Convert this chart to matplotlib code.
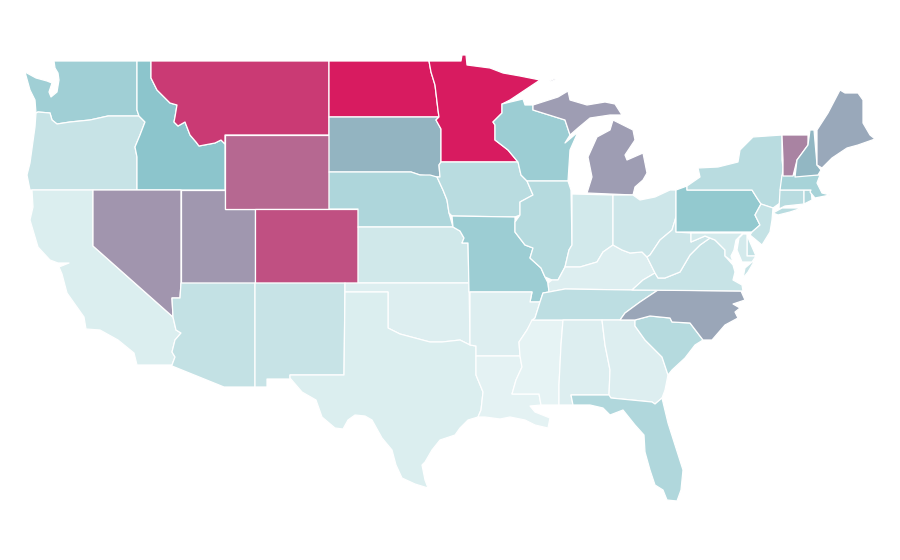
import matplotlib
matplotlib.use("Agg")
from matplotlib import pyplot as plt
from matplotlib.collections import PolyCollection
from matplotlib.colors import LinearSegmentedColormap, Normalize

# state values (0 = palest, 100 = crimson)
STATE_NAMES = ["WA", "OR", "CA", "ID", "NV", "UT", "AZ", "MT", "WY", "CO", "NM",
               "ND", "SD", "NE", "KS", "OK", "TX", "MN", "IA", "MO", "AR", "LA",
               "WI", "IL", "MS", "MI", "IN", "KY", "TN", "AL", "OH", "GA", "FL",
               "SC", "NC", "VA", "WV", "PA", "NY", "NJ", "DE", "MD", "CT", "RI",
               "MA", "VT", "NH", "ME"]
STATE_VALUES = [31, 14, 5, 40, 57, 56, 16, 89, 73, 81, 14,
                100, 46, 25, 10, 4, 5, 100, 20, 33, 4, 1,
                33, 22, 0, 54, 9, 4, 18, 4, 11, 4, 24,
                22, 51, 14, 12, 37, 20, 15, 15, 8, 20, 24,
                28, 63, 45, 50]

# outlines in picture coordinates, one list per ring
WA = [(54, 61), (137, 61), (137, 110), (139, 116), (108, 116), (90, 120), (70, 122), (57, 124),
      (52, 120), (50, 113), (38, 112), (36, 113), (35, 100), (30, 90), (25, 72), (36, 78),
      (47, 81), (52, 83), (49, 92), (51, 97), (57, 92), (59, 80), (58, 73), (55, 68)]
OR = [(36, 113), (38, 112), (50, 113), (52, 120), (57, 124), (70, 122), (90, 120), (108, 116),
      (139, 116), (145, 122), (140, 135), (135, 147), (137, 157), (137, 190), (30, 190),
      (27, 175), (30, 163), (35, 127)]
CA = [(32, 190), (93, 190), (93, 246), (173, 317), (176, 330), (181, 333), (175, 340), (172, 352),
      (175, 357), (172, 365), (137, 365), (134, 353), (118, 340), (100, 330), (86, 329),
      (84, 317), (67, 293), (62, 274), (59, 267), (69, 263), (58, 263), (50, 260), (38, 247),
      (30, 220), (33, 207)]
ID = [(137, 61), (151, 61), (151, 78), (157, 90), (170, 103), (177, 105), (175, 117), (174, 122),
      (178, 126), (185, 122), (190, 135), (196, 142), (199, 146), (215, 143), (221, 140),
      (225, 144), (225, 190), (137, 190), (137, 157), (135, 147), (140, 135), (145, 122),
      (139, 116), (137, 110)]
NV = [(93, 190), (181, 190), (181, 283), (180, 298), (172, 298), (173, 317), (93, 246)]
UT = [(181, 190), (225, 190), (225, 209), (255, 209), (255, 283), (181, 283)]
AZ = [(181, 283), (255, 283), (255, 387), (224, 387), (172, 366), (172, 365), (175, 357), (172, 352),
      (175, 340), (181, 333), (176, 330), (173, 317), (172, 298), (180, 298)]
MT = [(151, 61), (329, 61), (329, 135), (225, 135), (225, 144), (221, 140), (215, 143), (199, 146),
      (196, 142), (190, 135), (185, 122), (178, 126), (174, 122), (175, 117), (177, 105),
      (170, 103), (157, 90), (151, 78)]
WY = [(225, 135), (329, 135), (329, 209), (225, 209)]
CO = [(255, 209), (358, 209), (358, 283), (255, 283)]
NM = [(255, 283), (345, 283), (344, 375), (290, 375), (290, 379), (267, 379), (267, 387), (255, 387)]
ND = [(329, 61), (429, 61), (431, 72), (435, 85), (438, 110), (439, 117), (329, 117)]
SD = [(329, 117), (439, 117), (436, 120), (441, 129), (441, 162), (439, 165), (440, 177), (437, 177),
      (420, 175), (411, 172), (329, 172)]
NE = [(329, 172), (411, 172), (420, 175), (430, 175), (437, 177), (443, 190), (447, 200), (449, 213),
      (453, 227), (358, 227), (358, 209), (329, 209)]
KS = [(358, 227), (453, 227), (460, 231), (464, 238), (462, 243), (468, 243), (469, 283), (358, 283)]
OK = [(345, 283), (469, 283), (470, 345), (460, 340), (442, 342), (430, 342), (415, 338), (400, 334),
      (388, 328), (388, 292), (345, 292)]
TX = [(345, 292), (388, 292), (388, 328), (400, 334), (415, 338), (430, 342), (442, 342), (460, 340),
      (470, 345), (476, 346), (476, 375), (483, 392), (481, 410), (478, 417), (468, 420), (460, 428),
      (455, 435), (440, 440), (432, 450), (425, 462), (422, 465), (425, 480), (428, 488), (415, 484),
      (402, 478), (396, 465), (392, 450), (382, 438), (372, 420), (365, 416), (355, 415), (348, 420),
      (343, 429), (335, 428), (322, 417), (316, 400), (302, 392), (290, 378), (290, 375), (344, 375)]
MN = [(429, 61), (461, 61), (462, 55), (466, 55), (467, 65), (490, 68), (503, 73), (520, 76), (540, 80),
      (525, 90), (510, 100), (502, 104), (502, 113), (493, 122), (495, 125), (495, 140), (508, 150),
      (518, 162), (441, 162), (441, 129), (436, 120), (439, 117), (438, 110), (435, 85), (431, 72)]
IA = [(441, 162), (518, 162), (521, 175), (527, 181), (530, 188), (533, 195), (520, 202), (520, 215),
      (515, 217), (452, 216), (449, 213), (447, 200), (443, 190), (437, 177), (440, 177), (439, 165)]
MO = [(452, 216), (515, 217), (515, 232), (525, 245), (533, 248), (530, 258), (541, 268), (545, 277),
      (548, 283), (549, 292), (543, 293), (540, 302), (530, 302), (532, 292), (469, 292), (468, 243),
      (462, 243), (464, 238), (460, 231), (453, 227)]
AR = [(470, 292), (532, 292), (530, 302), (540, 302), (535, 318), (527, 330), (519, 342), (520, 356),
      (476, 356), (476, 346), (470, 345)]
LA = [(476, 356), (520, 356), (522, 367), (516, 380), (512, 394), (539, 394), (541, 405), (530, 406),
      (535, 412), (550, 418), (548, 428), (535, 425), (525, 420), (510, 417), (500, 419), (485, 417),
      (478, 417), (481, 410), (483, 392), (476, 375)]
WI = [(502, 104), (523, 99), (525, 105), (533, 105), (533, 110), (565, 120), (570, 135), (565, 143),
      (578, 132), (570, 150), (568, 181), (527, 181), (521, 175), (518, 162), (508, 150), (495, 140),
      (495, 125), (493, 122), (502, 113)]
IL = [(527, 181), (568, 181), (571, 190), (572, 245), (569, 250), (565, 267), (558, 280), (552, 280),
      (545, 277), (541, 268), (530, 258), (533, 248), (525, 245), (515, 232), (515, 222), (520, 215),
      (520, 202), (533, 195), (530, 188)]
MS = [(532, 320), (563, 320), (561, 345), (559, 385), (559, 405), (541, 405), (539, 394), (512, 394),
      (516, 380), (522, 367), (520, 356), (519, 342), (527, 330)]
MI_LOWER = [(587, 193), (592, 177), (588, 157), (597, 137), (610, 130), (613, 120), (617, 122), (633, 130),
            (635, 140), (625, 155), (627, 160), (643, 153), (647, 173), (643, 180), (635, 187), (633, 195)]
MI_UPPER = [(533, 110), (533, 105), (558, 97), (568, 91), (570, 100), (587, 105), (605, 102), (615, 104),
            (622, 115), (610, 115), (590, 118), (578, 128), (570, 135), (565, 120)]
MI_ISLE = [(549, 81), (556, 78), (555, 80), (550, 82)]
IN = [(572, 194), (613, 195), (613, 245), (603, 252), (597, 262), (580, 267), (565, 267), (569, 250), (572, 245)]
KY = [(549, 292), (565, 289), (632, 290), (643, 280), (655, 273), (647, 257), (642, 252), (630, 253),
      (622, 250), (613, 245), (603, 252), (597, 262), (580, 267), (565, 267), (558, 280), (552, 280), (548, 283)]
TN = [(543, 293), (549, 292), (565, 289), (632, 290), (658, 290), (640, 302), (625, 313), (620, 320),
      (532, 320), (535, 318), (540, 302)]
AL = [(563, 320), (602, 320), (605, 345), (610, 370), (609, 395), (571, 395), (573, 405), (559, 405),
      (559, 385), (561, 345)]
OH = [(613, 195), (633, 195), (640, 200), (655, 197), (670, 190), (676, 190), (676, 217), (672, 230),
      (660, 240), (650, 255), (647, 257), (642, 252), (630, 253), (622, 250), (613, 245)]
GA = [(602, 320), (635, 320), (635, 326), (645, 340), (662, 357), (668, 375), (665, 390), (662, 398),
      (655, 404), (652, 402), (611, 398), (609, 395), (610, 370), (605, 345)]
FL = [(571, 395), (609, 395), (611, 398), (652, 402), (655, 404), (662, 398), (668, 423), (675, 445),
      (683, 470), (681, 490), (677, 501), (667, 500), (663, 490), (655, 485), (650, 470), (645, 452),
      (644, 435), (635, 425), (623, 410), (610, 415), (603, 408), (590, 405), (573, 405)]
SC = [(635, 320), (650, 316), (670, 318), (672, 322), (690, 323), (703, 340), (695, 345), (685, 358),
      (672, 370), (668, 375), (662, 357), (645, 340), (635, 326)]
NC = [(658, 290), (741, 291), (745, 300), (733, 304), (740, 308), (735, 312), (738, 318), (725, 325),
      (712, 340), (703, 340), (690, 323), (672, 322), (670, 318), (650, 316), (635, 320), (620, 320),
      (625, 313), (640, 302)]
VA = [(632, 290), (743, 291), (742, 285), (733, 280), (735, 272), (733, 265), (725, 256), (725, 250),
      (715, 240), (710, 238), (700, 245), (690, 255), (680, 272), (665, 278), (658, 278), (655, 273), (643, 280)]
VA_SHORE = [(752, 262), (755, 260), (748, 272), (743, 278), (745, 268)]
WV = [(676, 217), (676, 232), (691, 233), (691, 242), (705, 236), (710, 238), (700, 245), (690, 255),
      (680, 272), (665, 278), (658, 278), (655, 273), (647, 257), (650, 255), (660, 240), (672, 230)]
PA = [(676, 190), (687, 186), (687, 190), (752, 190), (757, 198), (761, 204), (755, 215), (760, 225),
      (752, 232), (676, 232)]
NY = [(687, 186), (700, 177), (698, 168), (718, 167), (738, 162), (740, 150), (753, 137), (782, 135),
      (782, 160), (783, 167), (780, 203), (773, 208), (761, 204), (757, 198), (752, 190), (687, 190)]
NY_ISLAND = [(773, 213), (782, 208), (802, 208), (790, 212), (778, 215)]
NJ = [(761, 204), (773, 208), (772, 220), (770, 232), (762, 245), (750, 235), (752, 232), (760, 225), (755, 215)]
DE = [(747, 234), (749, 240), (756, 256), (747, 256)]
MD = [(691, 233), (743, 233), (736, 240), (734, 250), (731, 256), (733, 262), (725, 256), (725, 250),
      (715, 240), (705, 236), (691, 242)]
MD_SHORE = [(739, 238), (743, 234), (747, 234), (747, 256), (756, 256), (752, 262), (742, 262), (737, 250)]
CT = [(780, 190), (804, 190), (804, 204), (785, 206), (779, 209)]
RI = [(804, 190), (811, 190), (812, 200), (804, 204)]
MA = [(782, 175), (820, 175), (817, 183), (822, 193), (830, 195), (820, 197), (815, 198), (810, 192),
      (811, 190), (780, 190)]
VT = [(782, 135), (808, 135), (808, 145), (797, 160), (793, 176), (783, 176), (783, 160)]
NH = [(810, 130), (814, 130), (817, 165), (821, 170), (818, 175), (795, 177), (797, 160), (808, 145)]
ME = [(817, 130), (828, 113), (840, 90), (845, 93), (858, 93), (863, 100), (863, 123), (870, 135),
      (875, 139), (858, 145), (847, 148), (832, 158), (822, 168), (817, 165)]

STATE_RINGS = {"WA": [WA], "OR": [OR], "CA": [CA], "ID": [ID], "NV": [NV], "UT": [UT], "AZ": [AZ],
               "MT": [MT], "WY": [WY], "CO": [CO], "NM": [NM], "ND": [ND], "SD": [SD], "NE": [NE],
               "KS": [KS], "OK": [OK], "TX": [TX], "MN": [MN], "IA": [IA], "MO": [MO], "AR": [AR],
               "LA": [LA], "WI": [WI], "IL": [IL], "MS": [MS], "MI": [MI_LOWER, MI_UPPER, MI_ISLE],
               "IN": [IN], "KY": [KY], "TN": [TN], "AL": [AL], "OH": [OH], "GA": [GA], "FL": [FL],
               "SC": [SC], "NC": [NC], "VA": [VA, VA_SHORE], "WV": [WV], "PA": [PA],
               "NY": [NY, NY_ISLAND], "NJ": [NJ], "DE": [DE], "MD": [MD, MD_SHORE], "CT": [CT],
               "RI": [RI], "MA": [MA], "VT": [VT], "NH": [NH], "ME": [ME]}

# colour scale: pale teal, teal, crimson
cmap = LinearSegmentedColormap.from_list(
    "map", [(0.0, "#e6f3f4"), (0.4, "#8cc5cc"), (1.0, "#d81b60")])

rings = []
ring_values = []
for name, value in zip(STATE_NAMES, STATE_VALUES):
    for ring in STATE_RINGS[name]:
        rings.append(ring)
        ring_values.append(value)

fig = plt.figure(figsize=(9, 5.6), dpi=100)
ax = fig.add_axes([0, 0, 1, 1])
states = PolyCollection(rings, array=ring_values, cmap=cmap, norm=Normalize(0, 100),
                        edgecolors="white", linewidths=0.9)
ax.add_collection(states)
ax.set_xlim(0, 900)
ax.set_ylim(560, 0)
ax.axis("off")

fig.savefig("out.png", dpi=100, facecolor="white")
